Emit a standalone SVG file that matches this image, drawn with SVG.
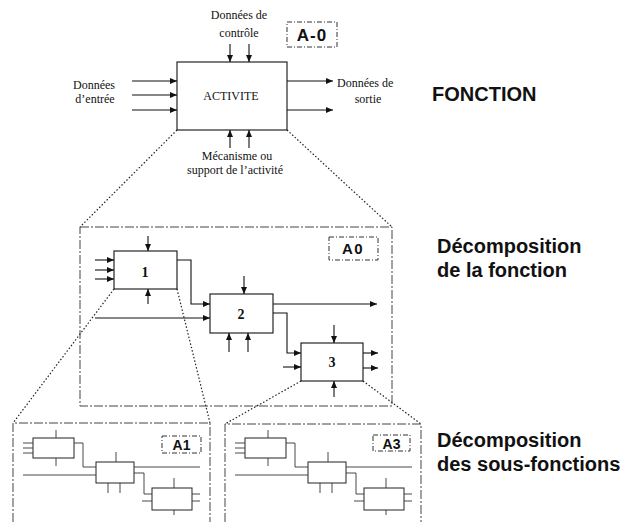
<svg xmlns="http://www.w3.org/2000/svg" width="631" height="522" viewBox="0 0 631 522">
<style>
.bg{fill:#fff}
.box{fill:#fff;stroke:#111;stroke-width:1.1}
.mbox{fill:#fff;stroke:#222;stroke-width:1}
.frame{fill:none;stroke:#444;stroke-width:1;stroke-dasharray:9 2 2 2}
.lbl{fill:none;stroke:#333;stroke-width:1;stroke-dasharray:5 2 1 2}
.dot{fill:none;stroke:#222;stroke-width:1.2;stroke-dasharray:1.5 2}
.ln{fill:none;stroke:#111;stroke-width:1.1}
.ml{fill:none;stroke:#333;stroke-width:0.9}
.serif{font-family:"Liberation Serif","Times New Roman",serif;font-size:12px;fill:#111}
.num{font-family:"Liberation Serif","Times New Roman",serif;font-size:14px;font-weight:bold;fill:#111;text-anchor:middle}
.tag{font-family:"Liberation Sans",Arial,sans-serif;font-weight:bold;fill:#111;text-anchor:middle}
.big{font-family:"Liberation Sans",Arial,sans-serif;font-weight:bold;font-size:20px;fill:#111}
</style>
<defs>
<marker id="ah" markerUnits="userSpaceOnUse" markerWidth="8" markerHeight="7" refX="7" refY="3.5" orient="auto" overflow="visible">
<path d="M0,0.5 L7,3.5 L0,6.5 z" fill="#111"/>
</marker>
</defs>
<rect class="bg" x="0" y="0" width="631" height="522"/>

<g id="zoom-lines">
<path class="dot" d="M177,130 L80,227 M287,130 L392,227"/>
<path class="dot" d="M114,289 L13,423 M177,289 L210,423"/>
<path class="dot" d="M301,381 L225,424 M363,381 L421,424"/>
</g>

<g id="node-activite">
<rect class="box" x="177" y="62" width="110" height="68"/>
<text class="serif" x="231" y="100" text-anchor="middle">ACTIVITE</text>
</g>
<g id="label-A-0">
<rect class="lbl" x="287" y="22" width="50" height="25"/>
<text class="tag" x="312" y="41" font-size="17" letter-spacing="1">A-0</text>
</g>
<g id="texts-top">
<text class="serif" x="239" y="19" text-anchor="middle">Données de</text>
<text class="serif" x="239" y="37" text-anchor="middle">contrôle</text>
<text class="serif" x="94" y="89" text-anchor="middle">Données</text>
<text class="serif" x="95" y="103" text-anchor="middle">d’entrée</text>
<text class="serif" x="337" y="87">Données de</text>
<text class="serif" x="368" y="103" text-anchor="middle">sortie</text>
<text class="serif" x="237" y="160" text-anchor="middle">Mécanisme ou</text>
<text class="serif" x="235" y="174" text-anchor="middle">support de l’activité</text>
<text class="big" x="432" y="101">FONCTION</text>
<text class="big" x="437" y="253">Décomposition</text>
<text class="big" x="437" y="277">de la fonction</text>
<text class="big" x="437" y="447">Décomposition</text>
<text class="big" x="437" y="471">des sous-fonctions</text>
</g>

<g id="frame-A0">
<rect class="frame" x="80" y="227" width="312" height="179"/>
</g>
<g id="label-A0">
<rect class="lbl" x="329" y="237" width="49" height="23"/>
<text class="tag" x="353" y="254" font-size="15" letter-spacing="1.5">A0</text>
</g>
<g id="node-1">
<rect class="box" x="114" y="251" width="63" height="38"/>
<text class="num" x="145" y="277">1</text>
</g>
<g id="node-2">
<rect class="box" x="210" y="294" width="63" height="39"/>
<text class="num" x="241" y="319">2</text>
</g>
<g id="node-3">
<rect class="box" x="301" y="343" width="62" height="38"/>
<text class="num" x="332" y="367">3</text>
</g>

<g id="connectors">
<path class="ln" marker-end="url(#ah)" d="M132,81 H177"/>
<path class="ln" marker-end="url(#ah)" d="M132,95 H177"/>
<path class="ln" marker-end="url(#ah)" d="M132,110 H177"/>
<path class="ln" marker-end="url(#ah)" d="M287,81 H333"/>
<path class="ln" marker-end="url(#ah)" d="M287,110 H333"/>
<path class="ln" marker-end="url(#ah)" d="M230,44 V62"/>
<path class="ln" marker-end="url(#ah)" d="M249,44 V62"/>
<path class="ln" marker-end="url(#ah)" d="M230,148 V130"/>
<path class="ln" marker-end="url(#ah)" d="M249,148 V130"/>
<path class="ln" marker-end="url(#ah)" d="M95,260 H114"/>
<path class="ln" marker-end="url(#ah)" d="M95,270 H114"/>
<path class="ln" marker-end="url(#ah)" d="M95,279 H114"/>
<path class="ln" marker-end="url(#ah)" d="M148,236 V251"/>
<path class="ln" marker-end="url(#ah)" d="M148,304 V289"/>
<path class="ln" marker-end="url(#ah)" d="M177,260 H191 V304 H210"/>
<path class="ln" marker-end="url(#ah)" d="M95,318 H210"/>
<path class="ln" marker-end="url(#ah)" d="M244,276 V294"/>
<path class="ln" marker-end="url(#ah)" d="M229,352 V333"/>
<path class="ln" marker-end="url(#ah)" d="M248,352 V333"/>
<path class="ln" marker-end="url(#ah)" d="M273,304 H377"/>
<path class="ln" marker-end="url(#ah)" d="M273,313 H287 V353 H301"/>
<path class="ln" marker-end="url(#ah)" d="M283,367 H301"/>
<path class="ln" marker-end="url(#ah)" d="M334,325 V343"/>
<path class="ln" marker-end="url(#ah)" d="M363,353 H378"/>
<path class="ln" marker-end="url(#ah)" d="M363,368 H378"/>
<path class="ln" marker-end="url(#ah)" d="M334,397 V381"/>
</g>

<g id="frame-A1">
<path class="frame" d="M13,522 V423 H210 V522"/>
<rect class="lbl" x="162" y="436" width="39" height="17"/>
<text class="tag" x="181.5" y="450" font-size="14">A1</text>
</g>
<g id="mini-A1">
<g id="A1-box-a"><rect class="mbox" x="33" y="438" width="41" height="20"/></g>
<g id="A1-box-b"><rect class="mbox" x="96" y="462" width="38" height="21"/></g>
<g id="A1-box-c"><rect class="mbox" x="152" y="488" width="40" height="22"/></g>
<g id="A1-links">
<path class="ml" d="M23,443 H33 M23,448 H33 M23,453 H33 M56,430 V438 M56,458 V466"/>
<path class="ml" d="M74,443 H83 V467 H96 M23,475 H96 M116,452 V462 M108,483 V493 M120,483 V493"/>
<path class="ml" d="M134,467 H200 M134,473 H144 V494 H152 M142,501 H152 M174,478 V488 M174,510 V515 M192,494 H200 M192,501 H200"/>
</g>
</g>

<g id="frame-A3">
<path class="frame" d="M225,522 V424 H421 V522"/>
<rect class="lbl" x="373" y="435" width="37" height="16"/>
<text class="tag" x="391.5" y="449" font-size="14">A3</text>
</g>
<g id="mini-A3" transform="translate(212,0)">
<g id="A3-box-a"><rect class="mbox" x="33" y="438" width="41" height="20"/></g>
<g id="A3-box-b"><rect class="mbox" x="96" y="462" width="38" height="21"/></g>
<g id="A3-box-c"><rect class="mbox" x="152" y="488" width="40" height="22"/></g>
<g id="A3-links">
<path class="ml" d="M23,443 H33 M23,448 H33 M23,453 H33 M56,430 V438 M56,458 V466"/>
<path class="ml" d="M74,443 H83 V467 H96 M23,475 H96 M116,452 V462 M108,483 V493 M120,483 V493"/>
<path class="ml" d="M134,467 H200 M134,473 H144 V494 H152 M142,501 H152 M174,478 V488 M174,510 V515 M192,494 H200 M192,501 H200"/>
</g>
</g>
</svg>
